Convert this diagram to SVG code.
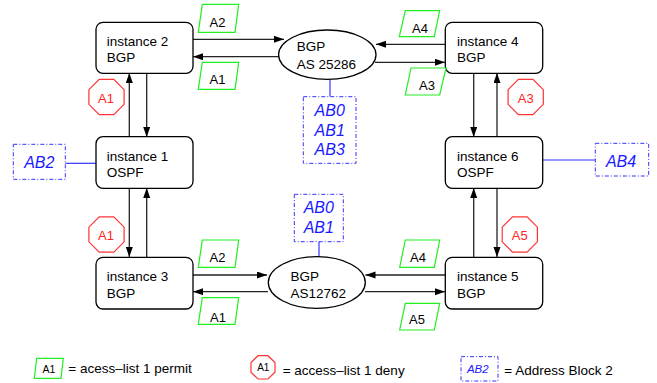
<svg xmlns="http://www.w3.org/2000/svg" width="657" height="383" viewBox="0 0 657 383">
<style>
text{font-family:"Liberation Sans",Arial,sans-serif;}
.node{fill:#fff;stroke:#000;stroke-width:1.3;}
.t{font-size:13.5px;fill:#000;}
.conn{stroke:#222;stroke-width:1.3;fill:none;marker-end:url(#ah);}
.blk{stroke:#3333ff;stroke-width:1.2;fill:none;}
.ab{fill:#fff;stroke:#3333ff;stroke-width:1;stroke-dasharray:4,2,1,2;}
.abt{font-size:16px;font-style:italic;fill:#1a1aff;text-anchor:middle;}
.perm{fill:#fff;stroke:#22ee22;stroke-width:1.2;}
.pt{font-size:13px;fill:#000;text-anchor:middle;}
.deny{fill:#fff;stroke:#ff3333;stroke-width:1.2;}
.dt{font-size:13px;fill:#ff2222;text-anchor:middle;}
.lg{font-size:13.5px;fill:#000;}
</style>
<defs>
<marker id="ah" markerWidth="11" markerHeight="8" refX="10" refY="3.5" orient="auto" markerUnits="userSpaceOnUse">
<path d="M0,0 L10,3.5 L0,7 z" fill="#000"/>
</marker>
<polygon id="oct" points="-7.3,-17.6 7.3,-17.6 17.6,-7.3 17.6,7.3 7.3,17.6 -7.3,17.6 -17.6,7.3 -17.6,-7.3"/>
</defs>

<g id="connectors">
<line class="conn" x1="193" y1="39.3" x2="284" y2="39.3"/>
<line class="conn" x1="279" y1="56.7" x2="193" y2="56.7"/>
<line class="conn" x1="445" y1="44.3" x2="376" y2="44.3"/>
<line class="conn" x1="375" y1="62.3" x2="445" y2="62.3"/>
<line class="conn" x1="193" y1="275" x2="267" y2="275"/>
<line class="conn" x1="268" y1="291.7" x2="193" y2="291.7"/>
<line class="conn" x1="445" y1="275" x2="365.5" y2="275"/>
<line class="conn" x1="365" y1="291.7" x2="445" y2="291.7"/>
<line class="conn" x1="129.3" y1="137" x2="129.3" y2="73"/>
<line class="conn" x1="146.7" y1="73" x2="146.7" y2="137"/>
<line class="conn" x1="129.3" y1="188" x2="129.3" y2="257"/>
<line class="conn" x1="146.7" y1="257" x2="146.7" y2="188"/>
<line class="conn" x1="473.7" y1="73" x2="473.7" y2="137"/>
<line class="conn" x1="497" y1="137" x2="497" y2="73"/>
<line class="conn" x1="473.7" y1="257" x2="473.7" y2="188"/>
<line class="conn" x1="497" y1="188" x2="497" y2="257"/>
<line class="blk" x1="65.3" y1="163.3" x2="96" y2="163.3"/>
<line class="blk" x1="542.7" y1="160" x2="595.3" y2="160"/>
<line class="blk" x1="330" y1="79.3" x2="330" y2="96.7"/>
<line class="blk" x1="319" y1="241.7" x2="319" y2="257"/>
</g>

<g id="instance2">
<rect class="node" x="96" y="22.3" width="97" height="51" rx="7"/>
<text class="t" x="106.7" y="45.7">instance 2</text>
<text class="t" x="106.7" y="62">BGP</text>
</g>
<g id="instance1">
<rect class="node" x="96" y="136.7" width="97" height="51.6" rx="7"/>
<text class="t" x="106.7" y="160.7">instance 1</text>
<text class="t" x="106.7" y="177.3">OSPF</text>
</g>
<g id="instance3">
<rect class="node" x="96" y="257.3" width="97" height="51.7" rx="7"/>
<text class="t" x="106.7" y="280.7">instance 3</text>
<text class="t" x="106.7" y="298">BGP</text>
</g>
<g id="instance4">
<rect class="node" x="445.3" y="22.3" width="97.4" height="51" rx="7"/>
<text class="t" x="457" y="45.7">instance 4</text>
<text class="t" x="457" y="62">BGP</text>
</g>
<g id="instance6">
<rect class="node" x="445.3" y="136.7" width="97.4" height="51.6" rx="7"/>
<text class="t" x="457" y="160.7">instance 6</text>
<text class="t" x="457" y="177.3">OSPF</text>
</g>
<g id="instance5">
<rect class="node" x="445.3" y="257.3" width="97.4" height="51.7" rx="7"/>
<text class="t" x="457" y="280.7">instance 5</text>
<text class="t" x="457" y="298">BGP</text>
</g>

<g id="bgp25286">
<ellipse class="node" cx="327.3" cy="54.7" rx="48.7" ry="24.7"/>
<text class="t" x="296.7" y="51.3">BGP</text>
<text class="t" x="296.7" y="69">AS 25286</text>
</g>
<g id="bgp12762">
<ellipse class="node" cx="316.8" cy="282.5" rx="48.5" ry="25.8"/>
<text class="t" x="290.5" y="280.7">BGP</text>
<text class="t" x="290.5" y="298.3">AS12762</text>
</g>

<g id="ab-top">
<rect class="ab" x="303.3" y="96.7" width="52.7" height="66.6"/>
<text class="abt" x="329.7" y="116">AB0</text>
<text class="abt" x="329.7" y="135.5">AB1</text>
<text class="abt" x="329.7" y="155">AB3</text>
</g>
<g id="ab-bottom">
<rect class="ab" x="294.3" y="194.3" width="49" height="47.4"/>
<text class="abt" x="318.8" y="213.3">AB0</text>
<text class="abt" x="318.8" y="233">AB1</text>
</g>
<g id="ab2">
<rect class="ab" x="13.3" y="144.3" width="52" height="35"/>
<text class="abt" x="39.3" y="167.7">AB2</text>
</g>
<g id="ab4">
<rect class="ab" x="595.3" y="143.3" width="53.4" height="32.7"/>
<text class="abt" x="621" y="166.7">AB4</text>
</g>

<g id="permit-a2-top">
<polygon class="perm" points="202.3,4.3 238.7,4.3 235,32.3 198.3,32.3"/>
<text class="pt" x="217.5" y="26.5">A2</text>
</g>
<g id="permit-a1-top">
<polygon class="perm" points="202.3,62.3 238.7,62.3 235,89.3 198.3,89.3"/>
<text class="pt" x="217.5" y="84">A1</text>
</g>
<g id="permit-a4-top">
<polygon class="perm" points="405.3,10.7 439.7,10.7 434.3,36.7 399.3,36.7"/>
<text class="pt" x="420" y="33">A4</text>
</g>
<g id="permit-a3-top">
<polygon class="perm" points="411,68 446,68 439.7,95 405.3,95"/>
<text class="pt" x="427" y="90">A3</text>
</g>
<g id="permit-a2-bottom">
<polygon class="perm" points="202.3,240 238.7,240 235,267.3 198.3,267.3"/>
<text class="pt" x="217.5" y="261.7">A2</text>
</g>
<g id="permit-a1-bottom">
<polygon class="perm" points="202.3,297.7 238.7,297.7 235,324.3 198.3,324.3"/>
<text class="pt" x="218" y="321.7">A1</text>
</g>
<g id="permit-a4-bottom">
<polygon class="perm" points="405.3,240 439.7,240 434.3,267.3 399.7,267.3"/>
<text class="pt" x="418" y="262">A4</text>
</g>
<g id="permit-a5-bottom">
<polygon class="perm" points="405.3,303.3 439.7,303.3 434.3,330 399.7,330"/>
<text class="pt" x="417" y="323.5">A5</text>
</g>

<g id="deny-a1-top">
<use href="#oct" class="deny" x="106.5" y="97"/>
<text class="dt" x="106" y="102.5">A1</text>
</g>
<g id="deny-a3-top">
<use href="#oct" class="deny" x="525.7" y="97"/>
<text class="dt" x="525.7" y="102.5">A3</text>
</g>
<g id="deny-a1-bottom">
<use href="#oct" class="deny" x="106.5" y="234.5"/>
<text class="dt" x="106" y="240">A1</text>
</g>
<g id="deny-a5-bottom">
<use href="#oct" class="deny" x="519.8" y="234.5"/>
<text class="dt" x="519.8" y="240">A5</text>
</g>

<g id="legend">
<polygon class="perm" points="36.7,358.3 63.3,358.3 61,378.3 34.3,378.3"/>
<text x="48.8" y="372.5" style="font-size:10.5px;text-anchor:middle;fill:#000">A1</text>
<text class="lg" x="68.3" y="373.3">= acess–list 1 permit</text>
<polygon class="deny" points="258,355.7 268,355.7 275,362.5 275,372.3 268,379 258,379 251,372.3 251,362.5"/>
<text x="263.3" y="370.5" style="font-size:10px;text-anchor:middle;fill:#000">A1</text>
<text class="lg" x="282.7" y="375">= access–list 1 deny</text>
<rect class="ab" x="461" y="356.7" width="37" height="24.3"/>
<text x="477.8" y="372.7" style="font-size:11.5px;font-style:italic;text-anchor:middle;fill:#1a1aff">AB2</text>
<text class="lg" x="504.3" y="375">= Address Block 2</text>
</g>
</svg>
